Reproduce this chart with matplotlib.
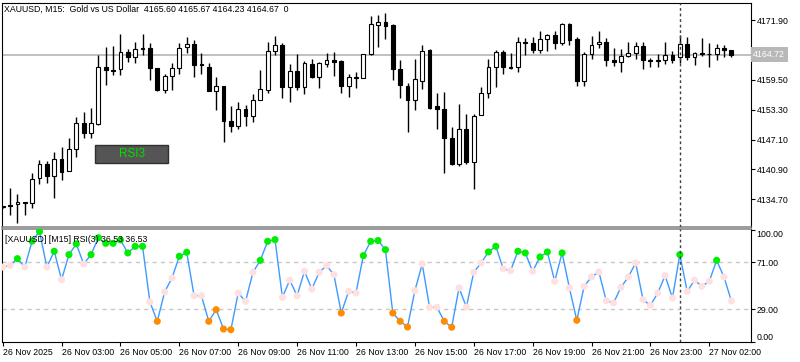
import matplotlib
matplotlib.use('Agg')
import matplotlib.pyplot as plt
import matplotlib.transforms as mtransforms
from matplotlib.patches import Rectangle
import numpy as np

plt.rcParams['font.family'] = ['Liberation Sans', 'DejaVu Sans']

# ---------------- data ----------------
opens = [4133.1, 4133.6, 4133.7, 4134.0, 4133.9, 4139.1, 4142.0, 4139.6, 4143.0, 4140.6,
         4145.1, 4150.5, 4148.5, 4150.3, 4162.2, 4161.6, 4161.7, 4165.3, 4164.2, 4166.0,
         4166.0, 4161.9, 4157.4, 4160.3, 4161.9, 4166.2, 4166.9, 4162.7, 4162.2, 4157.2,
         4158.2, 4150.9, 4150.0, 4153.4, 4151.9, 4155.4, 4157.4, 4165.5, 4166.7, 4157.9,
         4161.3, 4158.1, 4162.7, 4160.0, 4162.8, 4163.7, 4163.3, 4158.2, 4159.9, 4159.9,
         4164.8, 4170.9, 4171.4, 4170.9, 4161.7, 4158.2, 4155.2, 4159.3, 4165.7, 4154.1,
         4153.4, 4147.5, 4142.0, 4149.3, 4142.4, 4152.2, 4156.7, 4162.2, 4165.3, 4162.2,
         4162.1, 4167.3, 4167.1, 4165.7, 4167.9, 4168.8, 4167.1, 4171.1, 4167.9, 4159.3,
         4164.8, 4166.9, 4167.4, 4163.6, 4163.1, 4164.4, 4165.1, 4166.5, 4163.7, 4163.3,
         4163.7, 4164.6, 4164.2, 4166.9, 4164.3, 4165.1, 4164.9, 4164.8, 4166.0, 4165.60]
highs = [4133.4, 4137.0, 4135.7, 4134.2, 4140.1, 4142.9, 4142.7, 4144.6, 4145.6, 4147.4,
         4151.7, 4152.9, 4153.6, 4164.6, 4166.2, 4166.5, 4169.0, 4165.8, 4167.4, 4169.1,
         4167.1, 4162.0, 4160.8, 4162.9, 4167.1, 4168.4, 4167.8, 4165.1, 4162.9, 4160.1,
         4158.3, 4154.1, 4154.8, 4154.3, 4156.5, 4161.5, 4167.3, 4168.6, 4167.2, 4162.7,
         4164.8, 4163.3, 4163.9, 4163.1, 4165.0, 4165.2, 4163.5, 4160.6, 4161.2, 4164.9,
         4172.7, 4172.9, 4173.3, 4171.1, 4163.7, 4158.8, 4163.9, 4166.7, 4165.8, 4156.7,
         4156.9, 4149.6, 4154.5, 4152.4, 4152.5, 4157.9, 4163.8, 4165.7, 4165.7, 4165.0,
         4168.4, 4168.1, 4168.4, 4169.7, 4169.1, 4169.7, 4171.3, 4171.2, 4168.4, 4165.3,
         4168.6, 4169.7, 4168.1, 4166.0, 4165.8, 4167.4, 4167.4, 4167.3, 4164.1, 4164.8,
         4167.4, 4165.5, 4168.8, 4168.3, 4165.3, 4168.1, 4167.1, 4166.9, 4166.7, 4165.67]
lows = [4132.9, 4131.4, 4129.8, 4131.4, 4132.8, 4137.9, 4138.0, 4134.9, 4138.7, 4140.5,
        4143.4, 4147.4, 4147.4, 4150.2, 4158.4, 4160.5, 4160.5, 4163.2, 4162.9, 4164.6,
        4159.5, 4157.2, 4156.7, 4157.4, 4160.8, 4165.0, 4160.1, 4160.7, 4157.1, 4153.2,
        4146.6, 4148.6, 4149.2, 4149.9, 4150.8, 4155.2, 4156.8, 4164.6, 4155.7, 4154.9,
        4157.4, 4156.5, 4159.8, 4157.7, 4162.1, 4160.3, 4156.7, 4156.0, 4157.7, 4159.8,
        4164.7, 4166.2, 4167.9, 4159.5, 4155.7, 4148.6, 4153.2, 4157.5, 4153.4, 4149.2,
        4140.1, 4141.8, 4141.7, 4142.0, 4136.8, 4152.1, 4155.7, 4157.9, 4160.6, 4161.7,
        4161.2, 4164.6, 4165.1, 4165.1, 4165.5, 4165.8, 4166.7, 4166.7, 4158.2, 4158.2,
        4163.9, 4166.0, 4162.4, 4162.4, 4161.2, 4164.3, 4163.9, 4161.7, 4162.2, 4162.2,
        4162.8, 4163.0, 4162.9, 4163.7, 4162.6, 4164.5, 4162.1, 4163.5, 4164.3, 4164.23]
closes = [4133.3, 4133.4, 4134.2, 4134.1, 4138.9, 4142.0, 4139.6, 4143.0, 4140.4, 4145.1,
          4150.6, 4148.5, 4150.6, 4162.2, 4161.5, 4161.4, 4165.3, 4164.3, 4165.8, 4165.8,
          4161.9, 4157.4, 4160.3, 4161.9, 4166.0, 4166.9, 4162.6, 4162.5, 4157.2, 4158.2,
          4150.9, 4150.0, 4153.4, 4151.9, 4155.4, 4157.5, 4165.5, 4166.7, 4157.9, 4161.3,
          4158.1, 4162.9, 4160.0, 4162.9, 4163.7, 4163.1, 4158.2, 4160.1, 4160.1, 4164.8,
          4171.0, 4171.4, 4170.7, 4161.7, 4158.4, 4155.2, 4159.6, 4165.5, 4153.6, 4153.4,
          4147.5, 4142.0, 4149.3, 4142.4, 4152.0, 4156.7, 4162.2, 4165.3, 4162.2, 4162.0,
          4167.3, 4167.1, 4165.7, 4167.9, 4168.8, 4167.1, 4171.1, 4167.8, 4159.3, 4164.8,
          4166.7, 4167.4, 4163.5, 4163.1, 4164.4, 4165.1, 4166.5, 4163.7, 4163.3, 4163.7,
          4164.6, 4163.5, 4166.9, 4164.3, 4165.1, 4164.9, 4164.8, 4166.0, 4165.7, 4164.67]
rsi = [66.8, 68.4, 74.3, 66.8, 90.0, 98.5, 66.8, 80.9, 55.5, 77.9,
       87.5, 69.5, 77.9, 93.0, 88.0, 88.0, 91.0, 79.4, 85.3, 85.3,
       35.6, 18.3, 44.5, 57.0, 76.4, 80.0, 41.2, 41.2, 18.3, 28.7,
       11.4, 10.8, 43.6, 36.2, 62.1, 72.8, 89.8, 91.3, 39.8, 55.0,
       41.2, 63.0, 47.2, 62.1, 68.0, 60.0, 25.7, 45.1, 43.6, 77.0,
       89.8, 90.5, 82.3, 25.7, 18.3, 13.2, 45.7, 69.5, 30.8, 30.8,
       18.3, 13.0, 48.1, 31.1, 62.1, 70.5, 80.3, 85.3, 65.3, 63.5,
       80.9, 79.4, 63.0, 75.8, 80.3, 54.1, 79.4, 48.1, 19.2, 49.6,
       57.9, 62.4, 36.8, 34.7, 48.7, 57.9, 70.5, 37.6, 32.6, 43.6,
       59.1, 39.1, 77.9, 45.1, 55.0, 49.6, 54.1, 72.8, 57.9, 36.53]

price_ticks = [4171.90, 4165.70, 4159.50, 4153.30, 4147.10, 4140.90, 4134.70]
rsi_ticks = [100.0, 71.0, 29.0, 0.0]
rsi_upper, rsi_lower = 71.0, 29.0
bid_price = 4164.72
separator_bar = 92
time_tick_bars = [0, 8, 16, 24, 32, 40, 48, 56, 64, 72, 80, 88, 96]
time_tick_labels = ['26 Nov 2025', '26 Nov 03:00', '26 Nov 05:00', '26 Nov 07:00',
                    '26 Nov 09:00', '26 Nov 11:00', '26 Nov 13:00', '26 Nov 15:00',
                    '26 Nov 17:00', '26 Nov 19:00', '26 Nov 21:00', '26 Nov 23:00',
                    '27 Nov 02:00']
title = 'XAUUSD, M15:  Gold vs US Dollar  4165.60 4165.67 4164.23 4164.67  0'
rsi_label = '[XAUUSD] [M15] RSI(3) 36.53 36.53'

# ---------------- layout ----------------
W, H = 800, 362
fig = plt.figure(figsize=(W / 100, H / 100), dpi=100)
fig.patch.set_facecolor('white')

def fx(px):
    return px / W

def fy(py):
    return 1 - py / H

ax = fig.add_axes([fx(2), fy(227), fx(751) - fx(2), fy(3) - fy(227)])
ax2 = fig.add_axes([fx(2), fy(342), fx(751) - fx(2), fy(229) - fy(342)])

FS = 6.3
x = np.arange(len(opens))
o = np.array(opens); h = np.array(highs); l = np.array(lows); c = np.array(closes)
up = c >= o

# ---------------- price panel ----------------
ax.axhline(bid_price, color='#C0C0C0', lw=1.4, zorder=1)
ax.vlines(x, l, h, color='black', lw=1.0, zorder=2)
body_bottom = np.minimum(o, c)
body_h = np.maximum(np.abs(c - o), 0.06)
ax.bar(x, body_h, bottom=body_bottom, width=0.52,
       color=np.where(up, 'white', 'black'), edgecolor='black', linewidth=0.8, zorder=3)
ax.axvline(separator_bar, color='#404040', lw=1.0, ls=(0, (2, 2)), zorder=4)

ax.set_xlim(-0.095, 101.67)
ax.set_ylim(4128.95, 4175.43)
ax.set_xticks([])
ax.yaxis.tick_right()
ax.set_yticks(price_ticks)
ax.set_yticklabels([f'{v:.2f}' for v in price_ticks])
ax.tick_params(axis='y', length=3, width=0.8, pad=1, labelsize=FS, colors='black')
for s in ax.spines.values():
    s.set_linewidth(0.8)
ax.spines['bottom'].set_color('#808080')
ax.spines['bottom'].set_linewidth(1.1)

trans = mtransforms.blended_transform_factory(ax.transAxes, ax.transData)
ax.text(1.003, bid_price, f'{bid_price:.2f}', transform=trans, ha='left', va='center',
        color='white', fontsize=FS, clip_on=False, zorder=10,
        bbox=dict(boxstyle='square,pad=0.3', fc='#B8B8B8', ec='none'))

fig.text(fx(4), fy(9), title, ha='left', va='center', fontsize=FS, color='black')

# RSI3 button
btn = Rectangle((fx(95), fy(163)), fx(168) - fx(95), fy(145) - fy(163),
                transform=fig.transFigure, fc='#555555', ec='#303030', lw=1.0, zorder=5)
fig.add_artist(btn)
fig.text(fx(131.5), fy(154), 'RSI3', ha='center', va='center', fontsize=8.5,
         color='#00E000', zorder=6)

# ---------------- RSI panel ----------------
r = np.array(rsi)
pt_colors = np.where(r > rsi_upper, '#00EE00', np.where(r < rsi_lower, '#FF8C00', '#FFE0E0'))
ax2.axhline(rsi_upper, color='#C8C8C8', lw=1.0, ls=(0, (3, 3)), zorder=1)
ax2.axhline(rsi_lower, color='#C8C8C8', lw=1.0, ls=(0, (3, 3)), zorder=1)
ax2.plot(x, r, color='#3D9BFF', lw=1.0, zorder=2)
ax2.scatter(x, r, s=26, c=pt_colors, edgecolors='none', zorder=3)
ax2.axvline(separator_bar, color='#404040', lw=1.0, ls=(0, (2, 2)), zorder=4)

ax2.set_xlim(-0.095, 101.67)
ax2.set_ylim(-0.2, 100.8)
ax2.yaxis.tick_right()
ax2.set_yticks(rsi_ticks)
ax2.set_yticklabels([f'{v:.2f}' for v in rsi_ticks])
ax2.tick_params(axis='y', length=3, width=0.8, pad=1, labelsize=FS, colors='black')
ylabs = ax2.get_yticklabels()
ylabs[0].set_va('top')
ylabs[-1].set_va('bottom')
ax2.set_xticks(time_tick_bars)
ax2.set_xticklabels(time_tick_labels, ha='left')
ax2.tick_params(axis='x', length=3, width=0.8, pad=1, labelsize=FS, colors='black')
for s in ax2.spines.values():
    s.set_linewidth(0.8)
ax2.spines['top'].set_color('#808080')
ax2.spines['top'].set_linewidth(1.1)

fig.text(fx(5), fy(239), rsi_label, ha='left', va='center', fontsize=FS, color='black', zorder=7)

fig.savefig('out.png', dpi=100, facecolor='white')
